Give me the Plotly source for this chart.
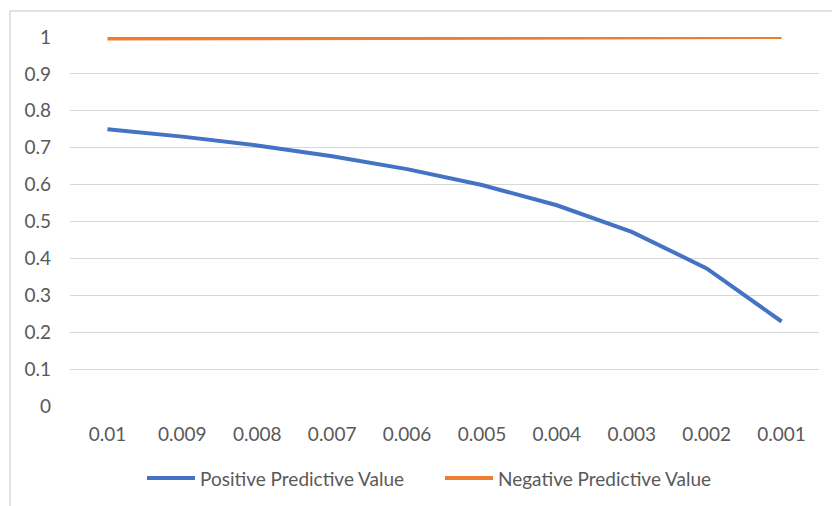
import plotly.graph_objects as go

# Disease prevalence categories (x axis, shown in descending order)
prevalence = ["0.01", "0.009", "0.008", "0.007", "0.006",
              "0.005", "0.004", "0.003", "0.002", "0.001"]

# Predictive values at each prevalence
ppv = [0.750, 0.730, 0.706, 0.677, 0.642, 0.599, 0.544, 0.472, 0.373, 0.229]
npv = [0.9960, 0.9966, 0.9972, 0.9976, 0.9980, 0.9984, 0.9988, 0.9992, 0.9996, 0.9998]

series_names = ["Positive Predictive Value", "Negative Predictive Value"]

y_ticks = [0, 0.1, 0.2, 0.3, 0.4, 0.5, 0.6, 0.7, 0.8, 0.9, 1]
y_tick_text = ["0", "0.1", "0.2", "0.3", "0.4", "0.5", "0.6", "0.7", "0.8", "0.9", "1"]

BLUE = "#4472C4"
ORANGE = "#ED7D31"
GRID = "#D9D9D9"
TEXT = "#595959"
FONT = "Lato, 'Open Sans', sans-serif"
FS = 19

colors = [BLUE, ORANGE]

fig = go.Figure()
for name, vals, col in zip(series_names, [ppv, npv], colors):
    fig.add_trace(go.Scatter(
        x=prevalence, y=vals, mode="lines", name=name,
        line=dict(color=col, width=4), showlegend=False,
    ))

# Plot area in pixels: x 70..819, y 37..406
W, H = 832, 506
L, R, T, B = 70, 13, 37, 100
pw, ph = W - L - R, H - T - B


def px_x(p):
    return (p - L) / pw


def px_y(p):
    return (H - B - p) / ph


# Legend drawn below the plot: a line sample followed by the series name
legend_y = px_y(478)
legend_starts = [147, 445]
shapes = [
    # chart frame (top and left edges visible)
    dict(type="rect", xref="paper", yref="paper",
         x0=px_x(10), x1=px_x(880), y0=px_y(560), y1=px_y(11),
         line=dict(color=GRID, width=1.5), layer="below"),
]
annotations = []
for name, col, x0 in zip(series_names, colors, legend_starts):
    shapes.append(dict(type="line", xref="paper", yref="paper",
                       x0=px_x(x0), x1=px_x(x0 + 48), y0=legend_y, y1=legend_y,
                       line=dict(color=col, width=4)))
    annotations.append(dict(xref="paper", yref="paper", x=px_x(x0 + 51), y=legend_y,
                            xanchor="left", yanchor="middle", showarrow=False,
                            text=name, font=dict(family=FONT, size=FS, color=TEXT)))

fig.update_layout(
    width=W, height=H,
    margin=dict(l=L, r=R, t=T, b=B),
    paper_bgcolor="white", plot_bgcolor="white",
    font=dict(family=FONT, size=FS, color=TEXT),
    showlegend=False,
    xaxis=dict(
        type="category", range=[-0.5, 9.5], showgrid=False, zeroline=False,
        showline=False, ticks="", ticklabelstandoff=15,
        tickfont=dict(family=FONT, size=FS, color=TEXT),
        fixedrange=True,
    ),
    yaxis=dict(
        range=[0, 1], tickvals=y_ticks, ticktext=y_tick_text,
        showgrid=True, gridcolor=GRID, gridwidth=1.3,
        zeroline=False, showline=False, ticks="",
        ticklabelstandoff=18,
        tickfont=dict(family=FONT, size=FS, color=TEXT),
        fixedrange=True,
    ),
    shapes=shapes,
    annotations=annotations,
)

fig.write_html("out.html")
